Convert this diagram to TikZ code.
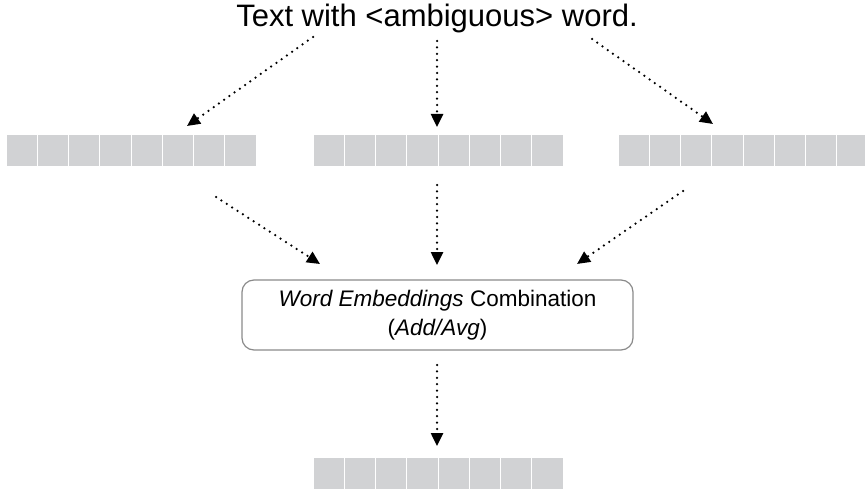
\documentclass[tikz,border=0pt]{standalone}
\usepackage{fontspec}
\setmainfont{Liberation Sans}
\usetikzlibrary{arrows.meta}
\definecolor{cellgrey}{HTML}{D1D2D4}
\definecolor{boxgrey}{HTML}{8A8A8A}
\tikzset{
  cell/.style={fill=cellgrey, draw=white, line width=1pt, minimum width=31.25pt, minimum height=32pt, inner sep=0pt, outer sep=0pt},
  dotarrow/.style={line width=2.5pt, line cap=round, dash pattern=on 0pt off 6.4pt, -{Triangle[length=13pt,width=12pt]}},
  combbox/.style={draw=boxgrey, line width=1.2pt, rounded corners=12pt, minimum width=391pt, minimum height=70pt, align=center, font=\fontsize{22.5}{29}\selectfont},
  title/.style={font=\fontsize{31}{36}\selectfont, inner sep=0pt}
}
\begin{document}
\begin{tikzpicture}[x=1pt,y=-1pt]
\useasboundingbox (0,0) rectangle (865,492);
% title
\node[title, anchor=base] (txt) at (437,27) {Text with <ambiguous> word.};
% embedding rows
\foreach \r/\x/\y in {L/6/135, M/313/135, R/618/135, B/313/457}{
  \foreach \i in {1,...,8}{
    \node[cell, anchor=north west] (\r\i) at ({\x+(\i-1)*31.25},\y) {};
  }
}
% combination box
\node[combbox] (comb) at (437.5,315) {\textit{Word Embeddings} Combination\\(\textit{Add/Avg})};
% arrow endpoints
\coordinate (t1) at (313,37);
\coordinate (t2) at (437,41);
\coordinate (t3) at (592,39);
\coordinate (h1) at (187,126);
\coordinate (h2) at (437,127);
\coordinate (h3) at (713,124);
\coordinate (m1) at (216,197);
\coordinate (m2) at (437,185);
\coordinate (m3) at (683,191);
\coordinate (e1) at (320,264);
\coordinate (e2) at (437,265);
\coordinate (e3) at (577,264);
\coordinate (b1) at (437,365);
\coordinate (b2) at (437,446);
\draw[dotarrow] (t1) -- (h1);
\draw[dotarrow] (t2) -- (h2);
\draw[dotarrow] (t3) -- (h3);
\draw[dotarrow] (m1) -- (e1);
\draw[dotarrow] (m2) -- (e2);
\draw[dotarrow] (m3) -- (e3);
\draw[dotarrow] (b1) -- (b2);
\end{tikzpicture}
\end{document}
